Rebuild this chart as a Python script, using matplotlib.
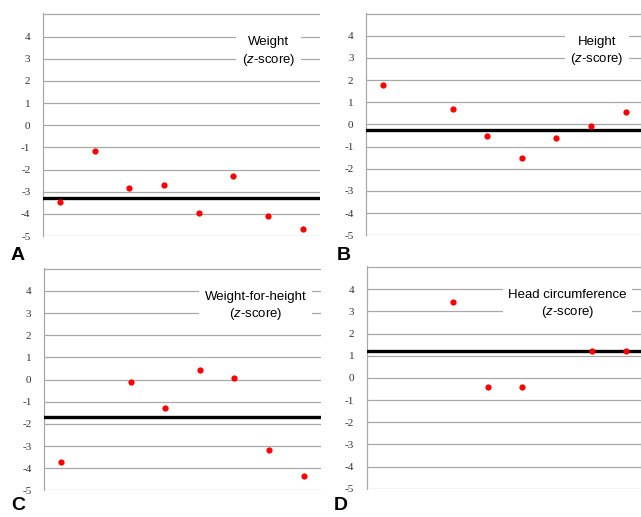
import matplotlib.pyplot as plt
import numpy as np

plt.rcParams['mathtext.fontset'] = 'custom'
plt.rcParams['mathtext.rm'] = 'Liberation Sans'
plt.rcParams['mathtext.it'] = 'Liberation Sans:italic'

# visit number (1..8) and z-score per panel
weight_x = [1, 2, 3, 4, 5, 6, 7, 8]
weight_z = [-3.48, -1.15, -2.84, -2.72, -3.98, -2.27, -4.08, -4.69]
weight_ref = -3.27

height_x = [1, 3, 4, 5, 6, 7, 8]
height_z = [1.77, 0.69, -0.50, -1.52, -0.60, -0.09, 0.57]
height_ref = -0.24

wfh_x = [1, 3, 4, 5, 6, 7, 8]
wfh_z = [-3.74, -0.10, -1.30, 0.43, 0.09, -3.19, -4.37]
wfh_ref = -1.69

head_x = [3, 4, 5, 7, 8]
head_z = [3.44, -0.42, -0.39, 1.20, 1.20]
head_ref = 1.20

yticks = [-5, -4, -3, -2, -1, 0, 1, 2, 3, 4, 5]
ylabels = ['-5', '-4', '-3', '-2', '-1', '0', '1', '2', '3', '4', '']

fig = plt.figure(figsize=(6.41, 5.17), dpi=100)

panels = [
    # rect, x, z, ref, title, title pos, letter, letter pos (px)
    ([0.067, 0.5435, 0.432, 0.4307], weight_x, weight_z, weight_ref,
     'Weight\n($z$-score)', (7.02, 3.3), 'A', (11, 255)),
    ([0.571, 0.545, 0.432, 0.4307], height_x, height_z, height_ref,
     'Height\n($z$-score)', (7.17, 3.3), 'B', (337, 255)),
    ([0.0686, 0.0516, 0.432, 0.4307], wfh_x, wfh_z, wfh_ref,
     'Weight-for-height\n($z$-score)', (6.62, 3.3), 'C', (11, 506)),
    ([0.572, 0.0547, 0.432, 0.4307], head_x, head_z, head_ref,
     'Head circumference\n($z$-score)', (6.3, 3.3), 'D', (334, 506)),
]

for rect, xs, zs, ref, title, tpos, letter, lpos in panels:
    ax = fig.add_axes(rect)
    ax.set_xlim(0.5, 8.5)
    ax.set_ylim(-5, 5.05)
    ax.set_yticks(yticks)
    ax.set_yticklabels(ylabels, family='Liberation Serif', fontsize=8, color='#333333')
    ax.set_xticks([])
    ax.tick_params(axis='y', length=0, pad=9)
    ax.grid(axis='y', color='#a8a8a8', linewidth=0.9)
    ax.set_axisbelow(True)
    for s in ['top', 'right', 'bottom']:
        ax.spines[s].set_visible(False)
    ax.spines['left'].set_color('#a8a8a8')
    ax.spines['left'].set_linewidth(0.9)

    ax.axhline(ref, color='black', linewidth=2.4, zorder=3)
    ax.plot(xs, zs, 'o', color='#ff0000', markersize=4.5, markeredgewidth=0, zorder=4)

    ax.text(tpos[0], tpos[1], title, ha='center', va='center', multialignment='center',
            fontsize=9.5, family='Liberation Sans', linespacing=1.3,
            bbox=dict(facecolor='white', edgecolor='none', pad=4), zorder=5)

    fig.text(lpos[0] / 641, 1 - lpos[1] / 517, letter, fontsize=14, fontweight='bold',
             family='Liberation Sans', ha='left', va='center')

fig.savefig('out.png', dpi=100)
